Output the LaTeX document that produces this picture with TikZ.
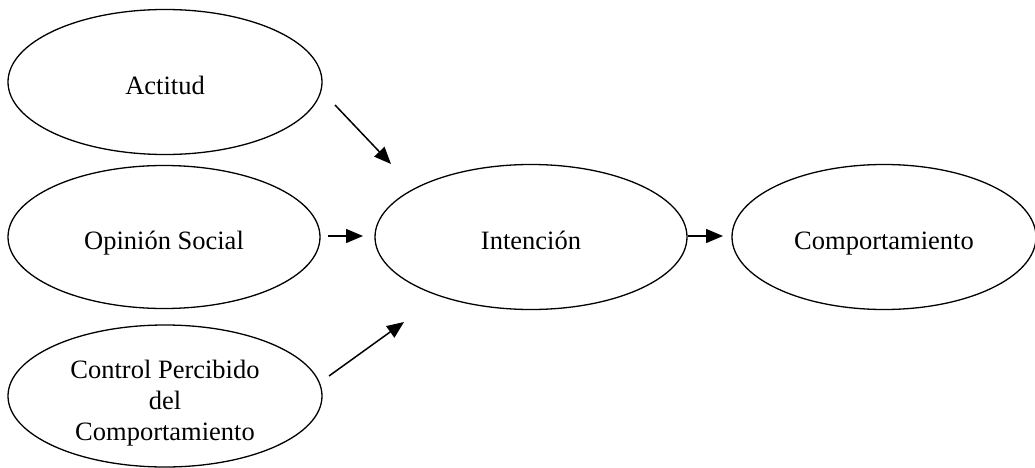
\documentclass[tikz,border=0pt]{standalone}
\usepackage{fontspec}
\setmainfont{Liberation Serif}
\usetikzlibrary{shapes.geometric,arrows.meta}
\begin{document}
\begin{tikzpicture}[x=1pt,y=-1pt,
  txt/.style={inner sep=0pt, align=center, font=\fontsize{26.5}{31}\selectfont},
  oval/.style={draw, ellipse, line width=1.3pt, txt},
  single/.style={text height=25pt, text depth=0pt},
  arr/.style={line width=1.5pt, -{Triangle[length=17pt,width=14pt]}}]
\useasboundingbox (0,0) rectangle (1035,468);
\node[oval, single, minimum width=314pt, minimum height=145pt] (act) at (165,82) {Actitud};
\node[oval, single, minimum width=312pt, minimum height=143pt] (op) at (164,237) {Opinión Social};
\node[oval, minimum width=314pt, minimum height=142pt] (ctl) at (165,396) {};
\node[txt] (ctltext) at (165,403) {Control Percibido\\del\\Comportamiento};
\node[oval, single, minimum width=312pt, minimum height=145pt] (int) at (531,237) {Intención};
\node[oval, single, minimum width=304pt, minimum height=145pt] (comp) at (884,237) {Comportamiento};
\coordinate (a1) at (335,105);
\coordinate (a2) at (391,164);
\coordinate (o1) at (328,236);
\coordinate (o2) at (363,236);
\coordinate (c1) at (329,376);
\coordinate (c2) at (404,322);
\coordinate (i1) at (688,236);
\coordinate (i2) at (723,236);
\draw[arr] (a1) -- (a2);
\draw[arr] (o1) -- (o2);
\draw[arr] (c1) -- (c2);
\draw[arr] (i1) -- (i2);
\end{tikzpicture}
\end{document}
